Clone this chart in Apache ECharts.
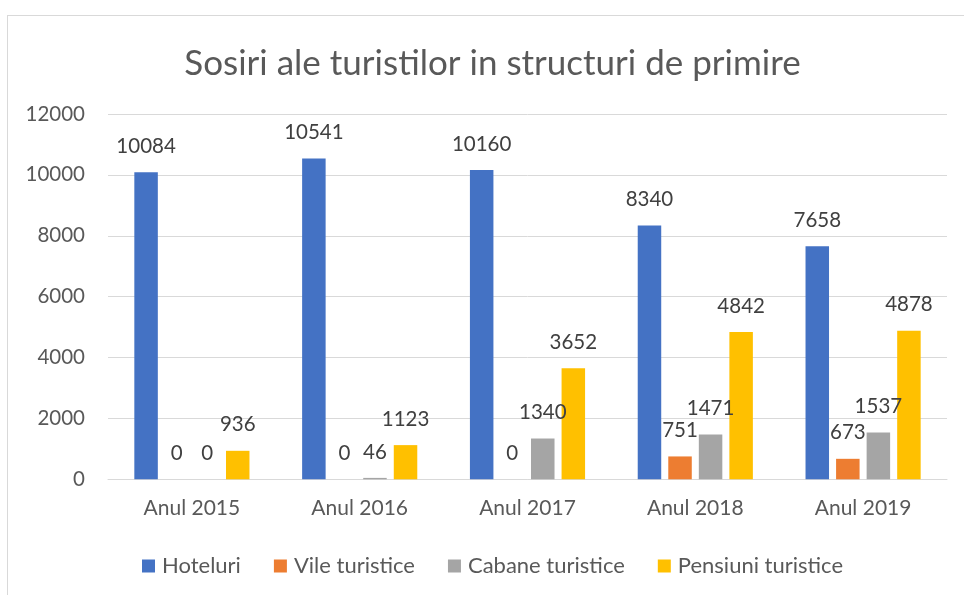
<!DOCTYPE html>
<html>
<head>
<meta charset="utf-8">
<script src="https://cdn.jsdelivr.net/npm/echarts@6/dist/echarts.min.js"></script>
<style>
  html, body { margin: 0; padding: 0; width: 964px; height: 595px; overflow: hidden; background: #ffffff; }
  #frame { position: absolute; left: 7px; top: 15px; width: 971px; height: 600px; border: 1px solid #d9d9d9; box-sizing: border-box; }
  #chart { width: 100%; height: 100%; }
</style>
</head>
<body>
<div id="frame"><div id="chart"></div></div>
<script>
// Arrivals of tourists by accommodation type, 2015-2019
const categories = ['Anul 2015', 'Anul 2016', 'Anul 2017', 'Anul 2018', 'Anul 2019'];
const seriesNames = ['Hoteluri', 'Vile turistice', 'Cabane turistice', 'Pensiuni turistice'];
const hoteluri = [10084, 10541, 10160, 8340, 7658];
const vile = [0, 0, 0, 751, 673];
const cabane = [0, 46, 1340, 1471, 1537];
const pensiuni = [936, 1123, 3652, 4842, 4878];
const yTicks = { min: 0, max: 12000, interval: 2000 };

const colors = ['#4472C4', '#ED7D31', '#A5A5A5', '#FFC000'];
const values = [hoteluri, vile, cabane, pensiuni];
const FONT = 'Lato';

const chart = echarts.init(document.getElementById('chart'), null, { renderer: 'canvas' });

chart.setOption({
  animation: false,
  color: colors,
  textStyle: { fontFamily: FONT },
  title: {
    text: 'Sosiri ale turistilor in structuri de primire',
    left: 'center',
    top: 25,
    textStyle: { fontFamily: FONT, fontSize: 35, fontWeight: 'normal', color: '#595959' }
  },
  legend: {
    data: seriesNames,
    left: 'center',
    top: 534,
    icon: 'rect',
    itemWidth: 13,
    itemHeight: 13,
    itemGap: 33,
    textStyle: { fontFamily: FONT, fontSize: 22, color: '#595959', padding: [0, 0, 0, 2] }
  },
  grid: { left: 100, right: 30, top: 98, bottom: 134.7, containLabel: false },
  xAxis: {
    type: 'category',
    data: categories,
    axisLine: { show: true, lineStyle: { color: '#d9d9d9', width: 1 } },
    axisTick: { show: false },
    axisLabel: { margin: 18.5, fontFamily: FONT, fontSize: 21, color: '#595959' }
  },
  yAxis: {
    type: 'value',
    min: yTicks.min,
    max: yTicks.max,
    interval: yTicks.interval,
    axisLine: { show: false },
    axisTick: { show: false },
    splitLine: { lineStyle: { color: '#d9d9d9', width: 1 } },
    axisLabel: {
      margin: 23, fontFamily: FONT, fontSize: 20.5, color: '#595959',
      formatter: (v) => String(v)
    }
  },
  series: seriesNames.map((name, i) => ({
    name: name,
    type: 'bar',
    data: values[i],
    barWidth: 23.5,
    barGap: '30%',
    itemStyle: { color: colors[i] },
    label: {
      show: true,
      position: 'top',
      distance: 15.5,
      fontFamily: FONT,
      fontSize: 20.5,
      color: '#404040'
    }
  }))
});
</script>
</body>
</html>
